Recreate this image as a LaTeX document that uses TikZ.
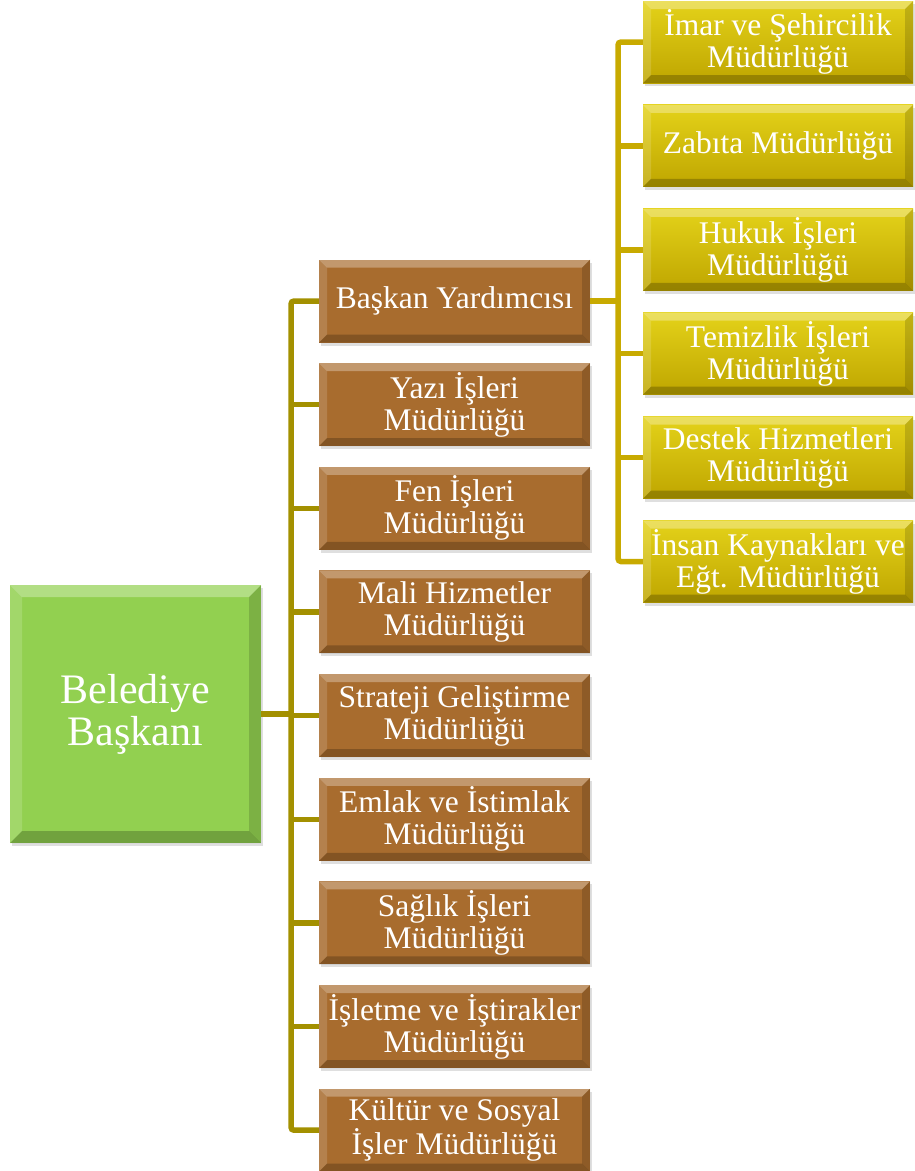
\documentclass[tikz,border=0pt]{standalone}
\usepackage{fontspec}
\setmainfont{Liberation Serif}
\usetikzlibrary{positioning,shadows}

\definecolor{bossgreen}{HTML}{92D050}
\definecolor{unitbrown}{HTML}{A86C2E}
\definecolor{subgold}{HTML}{D4B800}
\definecolor{linkolive}{HTML}{A39000}
\definecolor{linkgold}{HTML}{C8AA00}

\tikzset{
  bevel/.style={path picture={
    \fill[white,opacity=.3] (path picture bounding box.north west) -- (path picture bounding box.north east)
      -- ([xshift=-#1,yshift=-#1]path picture bounding box.north east) -- ([xshift=#1,yshift=-#1]path picture bounding box.north west) -- cycle;
    \fill[white,opacity=.15] (path picture bounding box.north west) -- ([xshift=#1,yshift=-#1]path picture bounding box.north west)
      -- ([xshift=#1,yshift=#1]path picture bounding box.south west) -- (path picture bounding box.south west) -- cycle;
    \fill[black,opacity=.15] (path picture bounding box.north east) -- ([xshift=-#1,yshift=-#1]path picture bounding box.north east)
      -- ([xshift=-#1,yshift=#1]path picture bounding box.south east) -- (path picture bounding box.south east) -- cycle;
    \fill[black,opacity=.22] (path picture bounding box.south west) -- (path picture bounding box.south east)
      -- ([xshift=-#1,yshift=#1]path picture bounding box.south east) -- ([xshift=#1,yshift=#1]path picture bounding box.south west) -- cycle;
  }},
  box/.style={inner sep=0pt, text=white, align=center,
    drop shadow={opacity=.25, shadow xshift=2pt, shadow yshift=-3pt}},
  boss/.style={box, fill=bossgreen, minimum width=251pt, minimum height=258pt,
    font=\fontsize{42}{42}\selectfont, bevel=12pt},
  unit/.style={box, fill=unitbrown, minimum width=271pt, minimum height=83pt,
    font=\fontsize{31.5}{32}\selectfont, bevel=8pt},
  subunit/.style={box, fill=subgold, top color=subgold!70!yellow!90!white, bottom color=subgold!90!black,
    minimum width=270pt, minimum height=82pt, font=\fontsize{31.5}{32}\selectfont, bevel=8pt},
  link/.style={draw=linkolive, line width=5.5pt, rounded corners=3pt},
  sublink/.style={link, draw=linkgold}
}

\begin{document}
\begin{tikzpicture}[x=1pt,y=-1pt]
\useasboundingbox (0,0) rectangle (915,1171);

% x positions of the two spines
\coordinate (spine) at (291,714);
\coordinate (subspine) at (618,301);

% head of the municipality
\node[boss] (baskan) at (135.5,714) {Belediye\\Başkanı};

% directorates under the mayor
\node[unit] (yard) at (454.5,301) {Başkan Yardımcısı};
\node[unit, below=20.25pt of yard] (yazi) {Yazı İşleri\\Müdürlüğü};
\node[unit, below=20.25pt of yazi] (fen) {Fen İşleri\\Müdürlüğü};
\node[unit, below=20.25pt of fen] (mali) {Mali Hizmetler\\Müdürlüğü};
\node[unit, below=20.25pt of mali] (strateji) {Strateji Geliştirme\\Müdürlüğü};
\node[unit, below=20.25pt of strateji] (emlak) {Emlak ve İstimlak\\Müdürlüğü};
\node[unit, below=20.25pt of emlak] (saglik) {Sağlık İşleri\\Müdürlüğü};
\node[unit, below=20.25pt of saglik] (isletme) {İşletme ve İştirakler\\Müdürlüğü};
\node[unit, below=20.25pt of isletme] (kultur) {Kültür ve Sosyal\\İşler Müdürlüğü};

% directorates under the deputy
\node[subunit] (imar) at (778,42) {İmar ve Şehircilik\\Müdürlüğü};
\node[subunit, below=21.5pt of imar] (zabita) {Zabıta Müdürlüğü};
\node[subunit, below=21.5pt of zabita] (hukuk) {Hukuk İşleri\\Müdürlüğü};
\node[subunit, below=21.5pt of hukuk] (temizlik) {Temizlik İşleri\\Müdürlüğü};
\node[subunit, below=21.5pt of temizlik] (destek) {Destek Hizmetleri\\Müdürlüğü};
\node[subunit, below=21.5pt of destek] (insan) {İnsan Kaynakları ve\\Eğt. Müdürlüğü};

% mayor tree
\draw[link] (baskan.east) -- (baskan.east -| spine);
\draw[link] (yard.west) -- (yard.west -| spine) -- (kultur.west -| spine) -- (kultur.west);
\draw[link] (yazi.west -| spine) -- (yazi.west);
\draw[link] (fen.west -| spine) -- (fen.west);
\draw[link] (mali.west -| spine) -- (mali.west);
\draw[link] (strateji.west -| spine) -- (strateji.west);
\draw[link] (emlak.west -| spine) -- (emlak.west);
\draw[link] (saglik.west -| spine) -- (saglik.west);
\draw[link] (isletme.west -| spine) -- (isletme.west);

% deputy tree
\draw[sublink] (yard.east) -- (yard.east -| subspine);
\draw[sublink] (imar.west) -- (imar.west -| subspine) -- (insan.west -| subspine) -- (insan.west);
\draw[sublink] (zabita.west -| subspine) -- (zabita.west);
\draw[sublink] (hukuk.west -| subspine) -- (hukuk.west);
\draw[sublink] (temizlik.west -| subspine) -- (temizlik.west);
\draw[sublink] (destek.west -| subspine) -- (destek.west);

\end{tikzpicture}
\end{document}
